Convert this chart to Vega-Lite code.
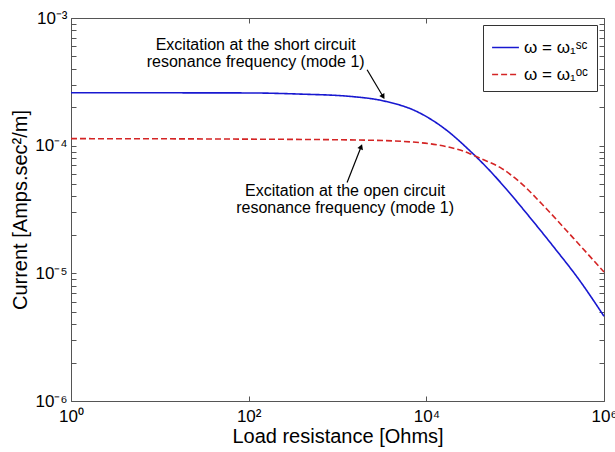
{
  "$schema": "https://vega.github.io/schema/vega-lite/v6.json",
  "width": 533,
  "height": 383,
  "autosize": {"type": "none"},
  "padding": {"left": 71, "top": 18, "right": 11, "bottom": 51},
  "background": "white",
  "config": {
    "font": "Liberation Sans",
    "view": {"stroke": "#555", "strokeWidth": 1},
    "axis": {
      "grid": false,
      "domain": false,
      "tickSize": -5,
      "tickColor": "#555",
      "labelColor": "black",
      "titleColor": "black",
      "labelFontSize": 17,
      "titleFontSize": 20,
      "titleFontWeight": "normal",
      "labelFlush": false,
      "labelOverlap": false
    },
    "legend": {
      "orient": "top-right",
      "offset": 7,
      "strokeColor": "#333",
      "fillColor": "white",
      "padding": 8,
      "labelFontSize": 17,
      "labelColor": "black",
      "symbolType": "stroke",
      "symbolSize": 720,
      "symbolStrokeWidth": 1.6,
      "rowPadding": 4
    }
  },
  "datasets": {
    "curves": [
      {"R": 1, "I": 0.0002594, "series": "sc"},
      {"R": 10, "I": 0.0002594, "series": "sc"},
      {"R": 100, "I": 0.0002588, "series": "sc"},
      {"R": 380, "I": 0.0002535, "series": "sc"},
      {"R": 1380, "I": 0.0002432, "series": "sc"},
      {"R": 3236, "I": 0.0002249, "series": "sc"},
      {"R": 7943, "I": 0.0001841, "series": "sc"},
      {"R": 16982, "I": 0.0001318, "series": "sc"},
      {"R": 30903, "I": 0.0000912, "series": "sc"},
      {"R": 50119, "I": 0.0000653, "series": "sc"},
      {"R": 79433, "I": 0.0000457, "series": "sc"},
      {"R": 138038, "I": 0.00002884, "series": "sc"},
      {"R": 269153, "I": 0.00001622, "series": "sc"},
      {"R": 537032, "I": 0.00000871, "series": "sc"},
      {"R": 1000000, "I": 0.00000461, "series": "sc"},
      {"R": 1, "I": 0.0001135, "series": "oc"},
      {"R": 100, "I": 0.0001125, "series": "oc"},
      {"R": 2188, "I": 0.0001104, "series": "oc"},
      {"R": 8710, "I": 0.0001054, "series": "oc"},
      {"R": 16982, "I": 0.0000982, "series": "oc"},
      {"R": 30903, "I": 0.0000866, "series": "oc"},
      {"R": 40738, "I": 0.0000794, "series": "oc"},
      {"R": 67608, "I": 0.0000676, "series": "oc"},
      {"R": 104713, "I": 0.0000542, "series": "oc"},
      {"R": 229087, "I": 0.0000316, "series": "oc"},
      {"R": 446684, "I": 0.00001905, "series": "oc"},
      {"R": 1000000, "I": 0.00001023, "series": "oc"}
    ],
    "notes": [
      {"R": 120, "I": 0.000615, "text": "Excitation at the short circuit"},
      {"R": 120, "I": 0.000453, "text": "resonance frequency (mode 1)"},
      {"R": 1219, "I": 0.0000445, "text": "Excitation at the open circuit"},
      {"R": 1219, "I": 0.0000322, "text": "resonance frequency (mode 1)"}
    ],
    "arrows": [
      {"id": "a1", "R1": 2154, "I1": 0.000393, "R2": 3266, "I2": 0.0002415},
      {"id": "a2", "R1": 1282, "I1": 0.0000514, "R2": 1845, "I2": 0.0000982}
    ]
  },
  "layer": [
    {
      "data": {"name": "curves"},
      "mark": {"type": "line", "interpolate": "monotone", "strokeWidth": 1.6},
      "encoding": {
        "x": {
          "field": "R", "type": "quantitative",
          "scale": {"type": "log", "domain": [1, 1000000], "nice": false},
          "axis": {
            "orient": "bottom",
            "values": [1, 100, 10000, 1000000],
            "labelExpr": "datum.value == 1 ? '10⁰' : datum.value == 100 ? '10²' : datum.value == 10000 ? '10⁴' : '10⁶'",
            "labelPadding": 12,
            "title": "Load resistance [Ohms]",
            "titlePadding": 2
          }
        },
        "y": {
          "field": "I", "type": "quantitative",
          "scale": {"type": "log", "domain": [0.000001, 0.001], "nice": false},
          "axis": {
            "orient": "left",
            "values": [0.000001, 0.000002, 0.000003, 0.000004, 0.000005, 0.000006, 0.000007, 0.000008, 0.000009,
                       0.00001, 0.00002, 0.00003, 0.00004, 0.00005, 0.00006, 0.00007, 0.00008, 0.00009,
                       0.0001, 0.0002, 0.0003, 0.0004, 0.0005, 0.0006, 0.0007, 0.0008, 0.0009, 0.001],
            "labelExpr": "datum.value == 0.001 ? '10⁻³' : datum.value == 0.0001 ? '10⁻⁴' : datum.value == 0.00001 ? '10⁻⁵' : datum.value == 0.000001 ? '10⁻⁶' : ''",
            "labelPadding": 9,
            "title": "Current [Amps.sec²/m]",
            "titlePadding": 4
          }
        },
        "color": {
          "field": "series", "type": "nominal",
          "scale": {"domain": ["sc", "oc"], "range": ["#1818d0", "#d42424"]},
          "legend": {"title": null, "labelExpr": "datum.label == 'sc' ? 'ω = ω₁ˢᶜ' : 'ω = ω₁ᵒᶜ'"}
        },
        "strokeDash": {
          "field": "series", "type": "nominal",
          "scale": {"domain": ["sc", "oc"], "range": [[1, 0], [6, 3]]},
          "legend": {"title": null, "labelExpr": "datum.label == 'sc' ? 'ω = ω₁ˢᶜ' : 'ω = ω₁ᵒᶜ'"}
        }
      }
    },
    {
      "data": {"name": "curves"},
      "mark": {"type": "point", "opacity": 0},
      "encoding": {
        "x": {
          "field": "R", "type": "quantitative",
          "axis": {"orient": "top", "values": [1, 100, 10000, 1000000], "labels": false, "title": null}
        },
        "y": {
          "field": "I", "type": "quantitative",
          "axis": {
            "orient": "right",
            "values": [0.000001, 0.000002, 0.000003, 0.000004, 0.000005, 0.000006, 0.000007, 0.000008, 0.000009,
                       0.00001, 0.00002, 0.00003, 0.00004, 0.00005, 0.00006, 0.00007, 0.00008, 0.00009,
                       0.0001, 0.0002, 0.0003, 0.0004, 0.0005, 0.0006, 0.0007, 0.0008, 0.0009, 0.001],
            "labels": false, "title": null
          }
        }
      }
    },
    {
      "data": {"name": "notes"},
      "mark": {"type": "text", "fontSize": 16, "align": "center", "baseline": "middle", "color": "black"},
      "encoding": {
        "x": {"field": "R", "type": "quantitative", "axis": null},
        "y": {"field": "I", "type": "quantitative", "axis": null},
        "text": {"field": "text"}
      }
    },
    {
      "data": {"name": "arrows"},
      "mark": {"type": "rule", "color": "black", "strokeWidth": 1.2},
      "encoding": {
        "x": {"field": "R1", "type": "quantitative", "axis": null},
        "y": {"field": "I1", "type": "quantitative", "axis": null},
        "x2": {"field": "R2"},
        "y2": {"field": "I2"}
      }
    },
    {
      "data": {"name": "arrows"},
      "transform": [{"filter": "datum.id == 'a1'"}],
      "mark": {"type": "point", "shape": "triangle-up", "filled": true, "color": "black", "size": 35, "angle": 149, "opacity": 1},
      "encoding": {
        "x": {"field": "R2", "type": "quantitative", "axis": null},
        "y": {"field": "I2", "type": "quantitative", "axis": null}
      }
    },
    {
      "data": {"name": "arrows"},
      "transform": [{"filter": "datum.id == 'a2'"}],
      "mark": {"type": "point", "shape": "triangle-up", "filled": true, "color": "black", "size": 35, "angle": 21, "opacity": 1},
      "encoding": {
        "x": {"field": "R2", "type": "quantitative", "axis": null},
        "y": {"field": "I2", "type": "quantitative", "axis": null}
      }
    }
  ],
  "resolve": {"axis": {"x": "independent", "y": "independent"}}
}
